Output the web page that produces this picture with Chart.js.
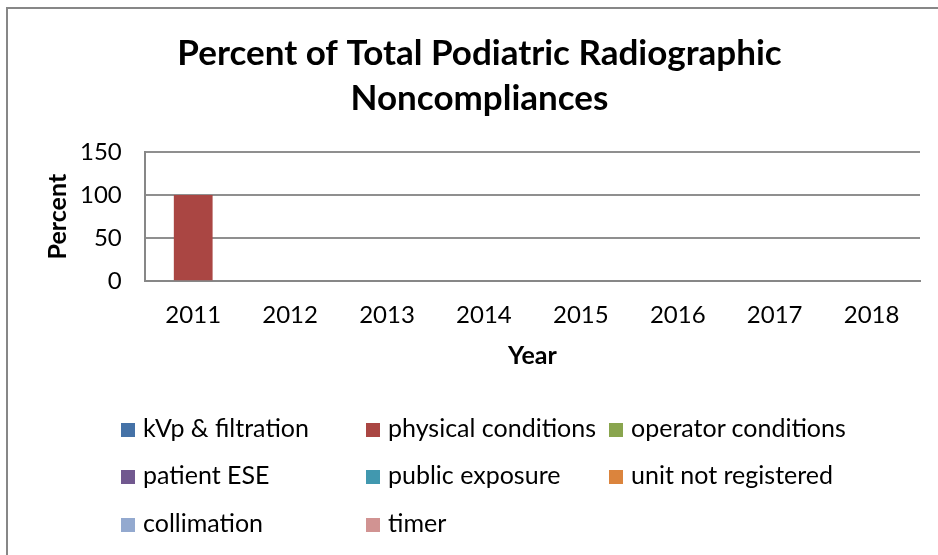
<!DOCTYPE html>
<html>
<head>
<meta charset="utf-8">
<script src="https://cdn.jsdelivr.net/npm/chart.js@4"></script>
<style>
  body { margin: 0; background: #fff; font-family: Lato, sans-serif; }
  #wrap { position: relative; width: 938px; height: 555px; overflow: hidden; }
  #frame { position: absolute; left: 6px; top: 7px; width: 1000px; height: 1000px;
           border-top: 2px solid #878787; border-left: 2px solid #878787; }
  #legend { position: absolute; left: 0; top: 0; width: 938px; height: 555px; pointer-events: none; }
  .item { position: absolute; font-size: 25px; color: #000; line-height: 30px; white-space: nowrap; }
  .item span.box { display: inline-block; width: 14px; height: 14px; margin-right: 8px; vertical-align: 0px; }
</style>
</head>
<body>
<div id="wrap">
  <div id="frame"></div>
  <canvas id="chart" width="938" height="555"></canvas>
  <div id="legend"></div>
</div>
<script>
// données
const years = ['2011', '2012', '2013', '2014', '2015', '2016', '2017', '2018'];
const seriesNames = ['kVp & filtration', 'physical conditions', 'operator conditions',
  'patient ESE', 'public exposure', 'unit not registered', 'collimation', 'timer'];
const seriesColors = ['#4572A7', '#AA4643', '#89A54E', '#71588F', '#4198AF', '#DB843D', '#93A9CF', '#D19392'];

const kvpFiltration = [0, 0, 0, 0, 0, 0, 0, 0];
const physicalConditions = [100, 0, 0, 0, 0, 0, 0, 0];
const operatorConditions = [0, 0, 0, 0, 0, 0, 0, 0];
const patientESE = [0, 0, 0, 0, 0, 0, 0, 0];
const publicExposure = [0, 0, 0, 0, 0, 0, 0, 0];
const unitNotRegistered = [0, 0, 0, 0, 0, 0, 0, 0];
const collimation = [0, 0, 0, 0, 0, 0, 0, 0];
const timer = [0, 0, 0, 0, 0, 0, 0, 0];

const yTicks = [0, 50, 100, 150];

const allSeries = [kvpFiltration, physicalConditions, operatorConditions, patientESE,
  publicExposure, unitNotRegistered, collimation, timer];

Chart.defaults.font.family = 'Lato';
Chart.defaults.color = '#000';

const datasets = allSeries.map((vals, i) => ({
  label: seriesNames[i],
  data: vals,
  backgroundColor: seriesColors[i],
  borderWidth: 0,
  grouped: false,
  barPercentage: 0.4,
  categoryPercentage: 1
}));

const ctx = document.getElementById('chart').getContext('2d');
const chart = new Chart(ctx, {
  type: 'bar',
  data: { labels: years, datasets: datasets },
  options: {
    responsive: false,
    animation: false,
    layout: { padding: { left: 39, right: 18, top: 12, bottom: 180 } },
    plugins: {
      legend: { display: false },
      tooltip: { enabled: false },
      title: {
        display: true,
        text: ['Percent of Total Podiatric Radiographic', 'Noncompliances'],
        font: { size: 35, weight: 'bold', lineHeight: 1.286 },
        color: '#000',
        padding: { top: 19, bottom: 31 }
      }
    },
    scales: {
      x: {
        grid: { display: false },
        border: { display: true, color: '#878787', width: 2 },
        ticks: { font: { size: 24 }, padding: 12, maxRotation: 0 },
        title: { display: true, text: 'Year', font: { size: 25, weight: 'bold' }, padding: { top: -1 } }
      },
      y: {
        min: 0,
        max: 150,
        afterBuildTicks: axis => { axis.ticks = yTicks.map(v => ({ value: v })); },
        grid: { color: '#8f8f8f', lineWidth: 2, drawTicks: false },
        border: { display: true, color: '#878787', width: 2 },
        ticks: { font: { size: 24 }, padding: 23 },
        title: { display: true, text: 'Percent', font: { size: 25, weight: 'bold' }, padding: { top: 4, bottom: -16 } }
      }
    }
  }
});

// légende HTML en 3 colonnes comme l'original
const colX = [121, 366, 609];
const rowY = [427, 474, 522];
const legendBloc = document.getElementById('legend');
seriesNames.forEach((name, i) => {
  const item = document.createElement('div');
  item.className = 'item';
  item.style.left = colX[i % 3] + 'px';
  item.style.top = (rowY[Math.floor(i / 3)] - 15) + 'px';
  item.innerHTML = '<span class="box" style="background:' + seriesColors[i] + '"></span>';
  item.appendChild(document.createTextNode(name));
  legendBloc.appendChild(item);
});
</script>
</body>
</html>
